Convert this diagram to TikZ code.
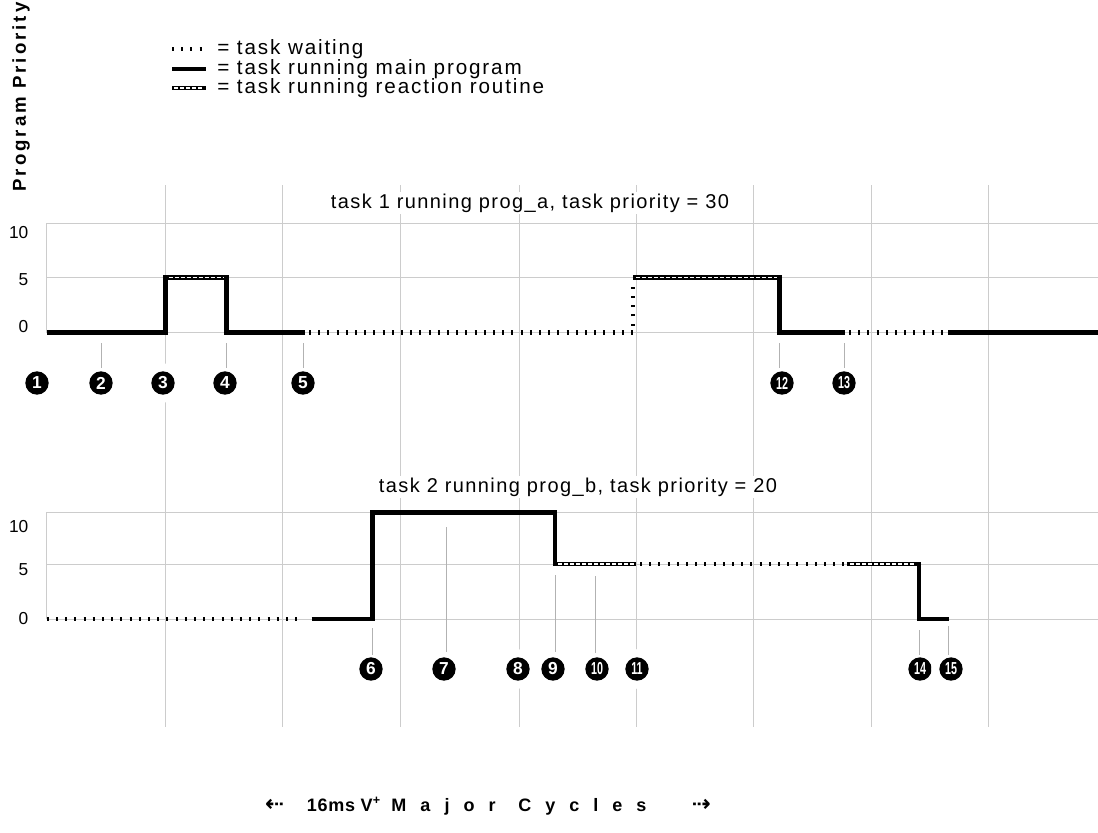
\documentclass[tikz,border=0pt]{standalone}
\usepackage{fontspec}
\usepackage{graphicx}
\setmainfont{Liberation Sans}
\newfontfamily\arrowfont{DejaVu Sans}
\usetikzlibrary{positioning}

\newcommand{\tightnum}[1]{\scalebox{0.62}[1]{#1}}

\begin{document}
\begin{tikzpicture}[
        x=0.75pt, y=-0.75pt, % one unit = one pixel, y down
        gridline/.style={draw=black!20, line width=0.7pt},
        running/.style={line width=3.4pt},
        waiting/.style={line width=3.4pt, dash pattern=on 1.5pt off 5.4pt},
        reactmarks/.style={draw=white, line width=1pt, dash pattern=on 3pt off 1.5pt},
        tickline/.style={draw=black!30, line width=0.6pt},
        marker/.style={circle, fill=black, text=white, inner sep=0pt,
            minimum size=17.5pt, font=\fontsize{13}{13}\bfseries,
            preaction={draw=white, line width=12pt}},
        axislabel/.style={anchor=east, font=\fontsize{13}{14}\selectfont},
        title/.style={fill=white, inner sep=1pt,
            font=\fontsize{15}{16}\selectfont\addfontfeature{LetterSpace=7}},
        legendtext/.style={anchor=west, inner sep=0pt,
            font=\fontsize{15.5}{16}\selectfont\addfontfeature{LetterSpace=9}}]

    \useasboundingbox (0,0) rectangle (1098,832);

    % grid
    \foreach \gx in {165.7,282.7,400,519,636.7,753.5,871,988.3}
        \draw[gridline] (\gx,185) -- (\gx,727);
    \foreach \gy in {223.3,277.3,332.7,512.3,564,619}
        \draw[gridline] (46.7,\gy) -- (1098,\gy);
    \draw[gridline] (46.7,223.3) -- (46.7,332.7);
    \draw[gridline] (46.7,512.3) -- (46.7,619);

    % panel titles
    \node[title] (title1) at (530,203) {task 1 running prog\_a, task priority = 30};
    \node[title] (title2) at (578,487) {task 2 running prog\_b, task priority = 20};

    % priority values
    \node[axislabel] (a10) at (33,233) {10};
    \node[axislabel] (a5) at (33,280) {5};
    \node[axislabel] (a0) at (33,327) {0};
    \node[axislabel] (b10) at (33,527) {10};
    \node[axislabel] (b5) at (33,570) {5};
    \node[axislabel] (b0) at (33,619) {0};

    % event markers
    \node[marker] (c1) at (37,383) {1};
    \node[marker] (c2) at (101,383) {2};
    \node[marker] (c3) at (163,383) {3};
    \node[marker] (c4) at (225,383) {4};
    \node[marker] (c5) at (303,383) {5};
    \node[marker] (c12) at (782,383) {\tightnum{12}};
    \node[marker] (c13) at (844,383) {\tightnum{13}};
    \node[marker] (c6) at (371,669) {6};
    \node[marker] (c7) at (444,669) {7};
    \node[marker] (c8) at (518,669) {8};
    \node[marker] (c9) at (553,669) {9};
    \node[marker] (c10) at (597,669) {\tightnum{10}};
    \node[marker] (c11) at (637,669) {\tightnum{11}};
    \node[marker] (c14) at (920,669) {\tightnum{14}};
    \node[marker] (c15) at (951,669) {\tightnum{15}};

    \draw[tickline] (101.7,343) -- (101.7,368);
    \draw[tickline] (226.7,343) -- (226.7,368);
    \draw[tickline] (303,343) -- (303,368);
    \draw[tickline] (779.3,343) -- (779.3,368);
    \draw[tickline] (844,343) -- (844,368);
    \draw[tickline] (372.3,628) -- (372.3,655);
    \draw[tickline] (446,527) -- (446,652);
    \draw[tickline] (555,575) -- (555,652);
    \draw[tickline] (595.7,576) -- (595.7,653);
    \draw[tickline] (919,630) -- (919,655);
    \draw[tickline] (948.5,626) -- (948.5,655);

    % task 1 trace
    \draw[running] (46.7,332.7) -| (165.7,277.3) -| (226.7,332.7) -- (305,332.7);
    \draw[reactmarks] (168.5,277.3) -- (224,277.3);
    \draw[waiting] (309,332.7) -| (633,280);
    \draw[running] (633,277.3) -| (779.3,332.7) -- (845,332.7);
    \draw[reactmarks] (636,277.3) -- (776.5,277.3);
    \draw[waiting] (849,332.7) -- (946,332.7);
    \draw[running] (948.3,332.7) -- (1098,332.7);

    % task 2 trace
    \draw[waiting] (46.7,619) -- (300,619);
    \draw[running] (311.7,619) -| (372.3,512.3) -| (555,564) -- (636,564);
    \draw[reactmarks] (558,564) -- (634,564);
    \draw[waiting] (640,564) -- (845,564);
    \draw[running] (847,564) -| (919,619) -- (948.5,619);
    \draw[reactmarks] (850,564) -- (916,564);

    % legend
    \draw[waiting] (172,49) -- (206,49);
    \node[legendtext] (lw) at (217,49) {= task waiting};
    \draw[running] (172,69) -- (206,69);
    \node[legendtext] (lr) at (217,69) {= task running main program};
    \draw[running] (172,88) -- (206,88);
    \draw[reactmarks] (174,88) -- (204,88);
    \node[legendtext] (lx) at (217,88) {= task running reaction routine};

    % axis captions
    \node[rotate=90, font=\fontsize{14}{15}\bfseries\addfontfeature{LetterSpace=16}] (ylab) at (21,97) {Program Priority};
    \node[font=\fontsize{13.5}{15}\bfseries] (xlab) at (488,806)
        {{\arrowfont\fontsize{17}{17}\selectfont ⇠}\hspace{17pt}{\addfontfeature{LetterSpace=4}16ms V\textsuperscript{+}}\hspace{8pt}{\addfontfeature{LetterSpace=78}Major\hspace{17pt}Cycles}\hspace{34pt}{\arrowfont\fontsize{17}{17}\selectfont ⇢}};
\end{tikzpicture}
\end{document}
